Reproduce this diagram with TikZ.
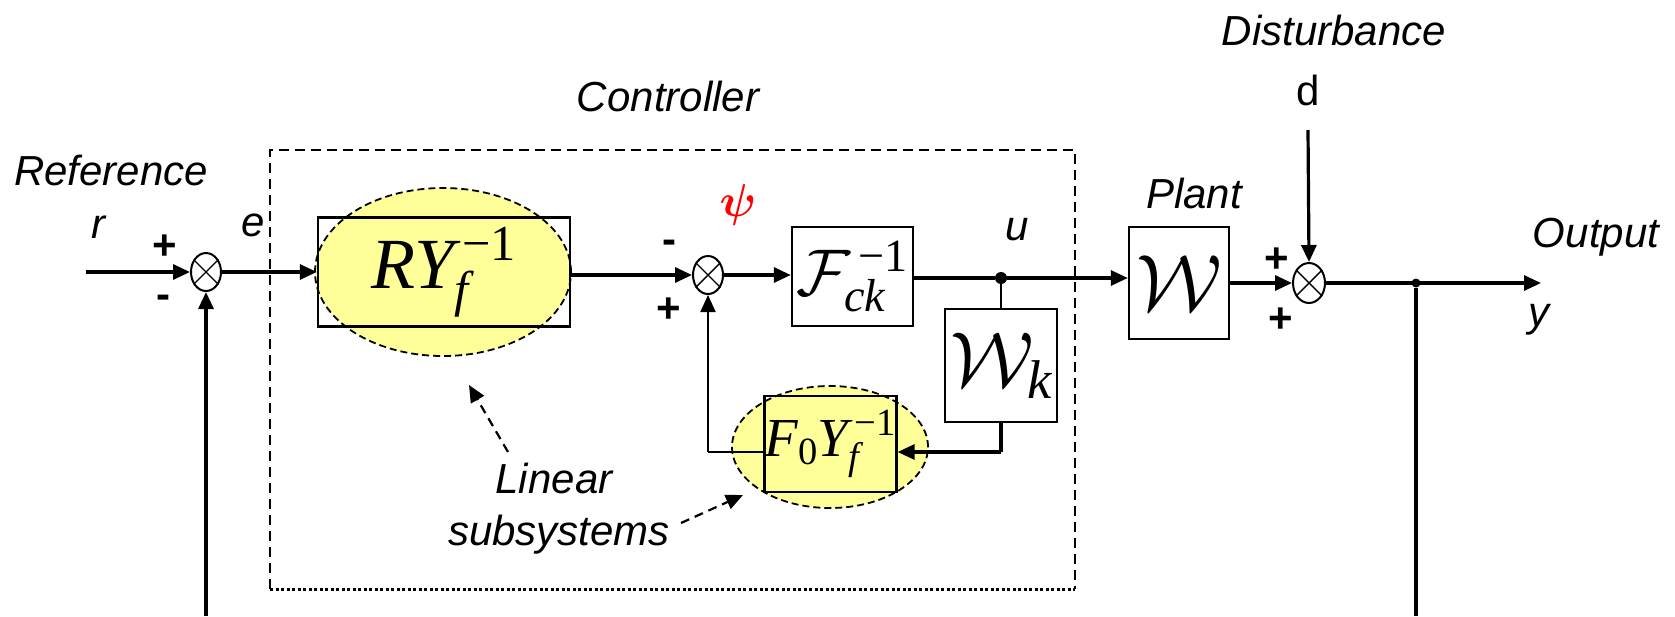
\RequirePackage{fix-cm}
\documentclass[tikz,border=0pt]{standalone}
\usepackage{amsmath}
\usepackage{fontspec}
\setmainfont{Liberation Sans}
\newfontfamily\tms{Liberation Serif}
\usetikzlibrary{arrows.meta,shapes.geometric,calc}
\definecolor{lyel}{RGB}{255,255,153}
\newcommand{\ti}[1]{\text{\tms\itshape #1}}
\newcommand{\tu}[1]{\text{\tms #1}}
\begin{document}
\begin{tikzpicture}[x=1pt,y=-1pt,>={Triangle[length=17pt,width=15pt]},
  lbl/.style={font=\fontsize{42}{48}\selectfont\itshape, inner sep=0pt},
  upr/.style={font=\fontsize{42}{48}\selectfont, inner sep=0pt},
  sgn/.style={font=\fontsize{42}{46}\selectfont\bfseries, inner sep=0pt},
  blk/.style={draw, line width=2.4pt, inner sep=0pt},
  sumnode/.style={draw, ellipse, line width=2pt, minimum width=30pt, minimum height=38pt, inner sep=0pt},
  hl/.style={ellipse, draw, line width=1.8pt, fill=lyel, dash pattern=on 7pt off 4pt},
  wire/.style={line width=3.2pt},
  thinw/.style={line width=2pt},
  jdot/.style={circle, fill, inner sep=0pt, minimum size=12pt},
  pointer/.style={line width=2.2pt, dash pattern=on 9pt off 6pt}]
\useasboundingbox (0,0) rectangle (1675,616);

% controller box
\draw[line width=2.6pt, dash pattern=on 10pt off 6pt] (270,589) -- (270,150) -- (1075,150) -- (1075,589);
\draw[line width=3pt, dash pattern=on 3pt off 2.5pt] (270,589) -- (1075,589);

% highlighted ellipses
\node[hl, minimum width=256pt, minimum height=168pt] (e1) at (443,272) {};
\node[hl, minimum width=196pt, minimum height=122pt] (e2) at (830,447) {};

% blocks
\node[blk, minimum width=252pt, minimum height=109pt] (RY) at (444,272)
  {\fontsize{72}{76}\selectfont$\ti{RY}_{\ti{f}}^{\,\tu{−1}}$};
\node[blk, minimum width=121pt, minimum height=99pt] (Fck) at (852.5,276.5)
  {\fontsize{66}{70}\selectfont$\mathcal{F}_{\ti{ck}}^{\,\tu{−1}}$};
\node[blk, minimum width=112pt, minimum height=113pt] (Wk) at (1001,365.5)
  {\fontsize{78}{82}\selectfont$\mathcal{W}_{\ti{k}}$};
\node[blk, minimum width=123pt, minimum height=96pt] (F0) at (830.5,444)
  {\fontsize{55}{60}\selectfont$\ti{F}_{\tu{0}}\ti{Y}_{\ti{f}}^{\,\tu{−1}}$};
\node[blk, minimum width=100pt, minimum height=112pt] (P) at (1179,283)
  {\fontsize{80}{84}\selectfont$\mathcal{W}$};

% summing junctions
\node[sumnode] (s1) at (206,272) {};
\node[sumnode] (s2) at (708,275) {};
\node[sumnode, minimum width=32pt, minimum height=40pt] (s3) at (1309,283) {};
\foreach \s in {s1,s2,s3}
  \draw[line width=1.4pt] (\s.45) -- (\s.225) (\s.135) -- (\s.-45);

% junction dots
\node[jdot] (j1) at (1001,278) {};
\node[jdot, minimum size=9pt] (j2) at (1416,283) {};

% free ends
\coordinate (in) at (86,272);
\coordinate (fb1) at (206,616);
\coordinate (fb2) at (1416,616);
\coordinate (dtop) at (1308,130);
\coordinate (yout) at (1541,283);
\coordinate (c1) at (1001,452);
\coordinate (c2) at (708,452);

% connectors
\draw[wire,->] (in) -- (s1);
\draw[wire,->] (s1) -- (s1 -| RY.west);
\draw[wire,->] (RY.east |- s2) -- (s2);
\draw[wire,->] (s2) -- (s2 -| Fck.west);
\draw[wire] (Fck.east |- j1) -- (j1);
\draw[wire,->] (j1) -- (j1 -| P.west);
\draw[thinw] (j1) -- (Wk.north);
\draw[wire] (Wk.south) -- (c1);
\draw[wire,->] (c1) -- (c1 -| F0.east);
\draw[thinw] (F0.west |- c1) -- (c2);
\draw[thinw,->] (c2) -- (s2.south);
\draw[wire,->] (P.east |- s3) -- (s3);
\draw[wire,->] (dtop) -- (s3.north);
\draw[wire,->] (s3) -- (yout);
\draw[wire] (j2) -- (fb2);
\draw[wire,->] (fb1) -- (s1.south);

% pointers
\coordinate (p1s) at (508,452);
\coordinate (p1e) at (469,385);
\coordinate (p2s) at (681,523);
\coordinate (p2e) at (743,495);
\draw[pointer,->] (p1s) -- (p1e);
\draw[pointer,->] (p2s) -- (p2e);

% labels
\node[lbl] (ref) at (111,170) {Reference};
\node[lbl] (r) at (98,227) {r};
\node[sgn] (p1) at (165,247) {+};
\node[sgn] (m1) at (163,302) {-};
\node[lbl] (e) at (253,225) {e};
\node[lbl] (ctl) at (668,96) {Controller};
\node[font=\fontsize{46}{50}\selectfont, text=red, inner sep=0pt] (psi) at (738,205) {$\boldsymbol{\psi}$};
\node[sgn] (m2) at (669,247) {-};
\node[sgn] (p2) at (669,310) {+};
\node[lbl] (u) at (1017,230) {u};
\node[lbl] (plant) at (1194,193) {Plant};
\node[lbl] (dist) at (1334,30) {Disturbance};
\node[upr] (d) at (1308,90) {d};
\node[sgn] (p3) at (1277,260) {+};
\node[sgn] (p4) at (1281,320) {+};
\node[lbl] (outp) at (1596,237) {Output};
\node[lbl] (y) at (1539,320) {y};
\node[lbl] (lin) at (554,478) {Linear};
\node[lbl] (sub) at (559,535) {subsystems};
\end{tikzpicture}
\end{document}
